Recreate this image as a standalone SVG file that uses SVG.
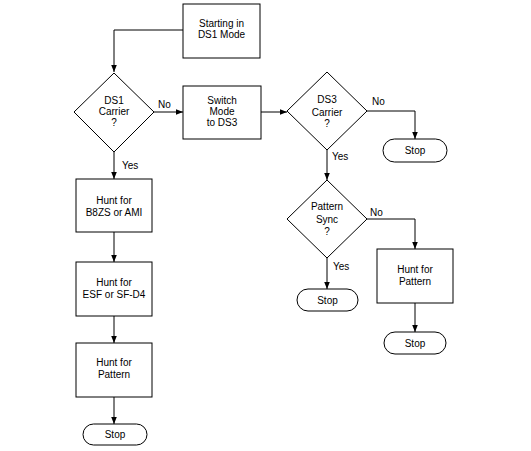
<svg xmlns="http://www.w3.org/2000/svg" width="531" height="451" viewBox="0 0 531 451">
<defs>
<style>
.s{fill:#fff;stroke:#000;stroke-width:1}
.c{fill:none;stroke:#000;stroke-width:1}
text{font-family:"Liberation Sans",Arial,sans-serif;font-size:10px;fill:#000}
.m{text-anchor:middle}
</style>
<marker id="a" viewBox="0 0 10 10" refX="10" refY="5" markerWidth="7" markerHeight="7" markerUnits="userSpaceOnUse" orient="auto"><path d="M0,1 L10,5 L0,9 Z" fill="#000"/></marker>
</defs>
<rect width="531" height="451" fill="#fff"/>
<g id="connectors">
<path class="c" d="M183,30 H114 V72" marker-end="url(#a)"/>
<path class="c" d="M154,112 H183" marker-end="url(#a)"/>
<path class="c" d="M261,112 H287" marker-end="url(#a)"/>
<path class="c" d="M114,152 V179" marker-end="url(#a)"/>
<path class="c" d="M114,232 V262" marker-end="url(#a)"/>
<path class="c" d="M114,316 V343" marker-end="url(#a)"/>
<path class="c" d="M114,397 V424" marker-end="url(#a)"/>
<path class="c" d="M367,111 H415 V139" marker-end="url(#a)"/>
<path class="c" d="M327,150 V180" marker-end="url(#a)"/>
<path class="c" d="M367,219 H415 V249" marker-end="url(#a)"/>
<path class="c" d="M327,258 V289" marker-end="url(#a)"/>
<path class="c" d="M415,303 V332" marker-end="url(#a)"/>
<text x="158" y="108">No</text>
<text x="122" y="169">Yes</text>
<text x="372" y="105">No</text>
<text x="332" y="160">Yes</text>
<text x="370" y="216">No</text>
<text x="333" y="270">Yes</text>
</g>
<g id="start">
<rect class="s" x="183" y="4" width="77" height="54"/>
<text class="m" x="221.5" y="27">Starting in</text>
<text class="m" x="221.5" y="38">DS1 Mode</text>
</g>
<g id="ds1carrier">
<polygon class="s" points="114,73 154,112 114,152 74,112"/>
<text class="m" x="114" y="104">DS1</text>
<text class="m" x="114" y="115">Carrier</text>
<text class="m" x="114" y="126">?</text>
</g>
<g id="switch">
<rect class="s" x="183" y="86" width="78" height="53"/>
<text class="m" x="222" y="104">Switch</text>
<text class="m" x="222" y="115">Mode</text>
<text class="m" x="222" y="126">to DS3</text>
</g>
<g id="ds3carrier">
<polygon class="s" points="327,72 367,111 327,150 287,111"/>
<text class="m" x="327" y="103">DS3</text>
<text class="m" x="327" y="116">Carrier</text>
<text class="m" x="327" y="127">?</text>
</g>
<g id="stop-ds3">
<rect class="s" x="383" y="139" width="64" height="23" rx="11.5"/>
<text class="m" x="415" y="154">Stop</text>
</g>
<g id="patternsync">
<polygon class="s" points="327,180 367,219 327,258 287,219"/>
<text class="m" x="327" y="210">Pattern</text>
<text class="m" x="327" y="223">Sync</text>
<text class="m" x="327" y="235">?</text>
</g>
<g id="stop-sync">
<rect class="s" x="297" y="289" width="61" height="22" rx="11"/>
<text class="m" x="327.5" y="303.5">Stop</text>
</g>
<g id="hunt-pattern-r">
<rect class="s" x="377" y="249" width="76" height="54"/>
<text class="m" x="415" y="273">Hunt for</text>
<text class="m" x="415" y="285">Pattern</text>
</g>
<g id="stop-r">
<rect class="s" x="384" y="332" width="62" height="22" rx="11"/>
<text class="m" x="415" y="346.5">Stop</text>
</g>
<g id="hunt-b8zs">
<rect class="s" x="76" y="179" width="76" height="53"/>
<text class="m" x="114" y="204">Hunt for</text>
<text class="m" x="114" y="216">B8ZS or AMI</text>
</g>
<g id="hunt-esf">
<rect class="s" x="76" y="262" width="76" height="54"/>
<text class="m" x="114" y="286">Hunt for</text>
<text class="m" x="114" y="298">ESF or SF-D4</text>
</g>
<g id="hunt-pattern-l">
<rect class="s" x="76" y="343" width="76" height="54"/>
<text class="m" x="114" y="366">Hunt for</text>
<text class="m" x="114" y="378">Pattern</text>
</g>
<g id="stop-l">
<rect class="s" x="83" y="424" width="64" height="21" rx="10.5"/>
<text class="m" x="115" y="438">Stop</text>
</g>
</svg>
